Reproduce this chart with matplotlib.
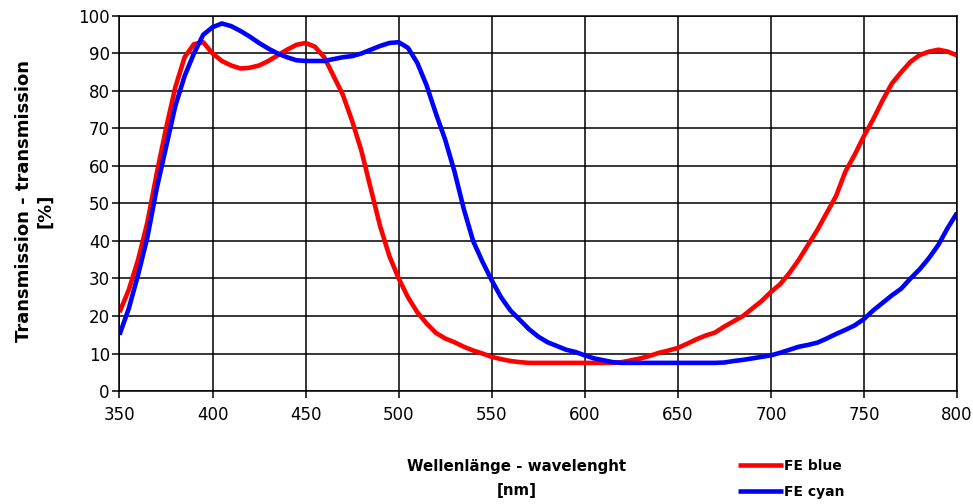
import matplotlib
matplotlib.use('Agg')
import matplotlib.pyplot as plt

# wavelength grid [nm]
wl = [350, 355, 360, 365, 370, 375, 380, 385, 390, 395,
      400, 405, 410, 415, 420, 425, 430, 435, 440, 445,
      450, 455, 460, 465, 470, 475, 480, 485, 490, 495,
      500, 505, 510, 515, 520, 525, 530, 535, 540, 545,
      550, 555, 560, 565, 570, 575, 580, 585, 590, 595,
      600, 605, 610, 615, 620, 625, 630, 635, 640, 645,
      650, 655, 660, 665, 670, 675, 680, 685, 690, 695,
      700, 705, 710, 715, 720, 725, 730, 735, 740, 745,
      750, 755, 760, 765, 770, 775, 780, 785, 790, 795, 800]

fe_blue = [21, 27, 35, 45, 58, 70, 81, 89, 92.5, 93,
           90, 88, 86.8, 86, 86.2, 86.8, 88, 89.5, 91, 92.3,
           92.8, 91.8, 89, 84, 79, 72, 64, 54, 44, 36,
           30, 25, 21, 18, 15.5, 14, 13, 11.8, 10.8, 10,
           9.1, 8.5, 8, 7.7, 7.5, 7.5, 7.5, 7.5, 7.5, 7.5,
           7.5, 7.5, 7.5, 7.5, 7.7, 8.2, 8.7, 9.4, 10.2, 10.8,
           11.5, 12.6, 13.8, 14.8, 15.6, 17.2, 18.6, 20, 22, 24,
           26.4, 28.5, 31.5, 35, 39, 43, 47.5, 52, 58.5, 63,
           68, 72.5, 77.5, 82, 85, 87.8, 89.6, 90.5, 91, 90.5, 89.5]

fe_cyan = [15, 22, 31, 41, 54, 65, 76, 84, 90, 95,
           97, 98, 97.3, 96, 94.5, 92.8, 91.3, 90, 89, 88.2,
           88, 88, 88, 88.5, 89, 89.3, 90, 91, 92, 92.8,
           93, 91.5, 87.5, 81.5, 74, 67, 58.5, 48.5, 40, 34.5,
           29.5, 25, 21.5, 19, 16.5, 14.5, 13, 12, 11, 10.4,
           9.5, 8.7, 8.2, 7.7, 7.5, 7.5, 7.5, 7.5, 7.5, 7.5,
           7.5, 7.5, 7.5, 7.5, 7.5, 7.6, 8, 8.3, 8.7, 9.1,
           9.5, 10.2, 11, 11.8, 12.3, 12.9, 14, 15.2, 16.3, 17.5,
           19.2, 21.5, 23.5, 25.5, 27.3, 30, 32.5, 35.5, 39, 43.5, 47.5]

x_ticks = [350, 400, 450, 500, 550, 600, 650, 700, 750, 800]
y_ticks = [0, 10, 20, 30, 40, 50, 60, 70, 80, 90, 100]

fig = plt.figure(figsize=(9.73, 5.04), dpi=100)
ax = fig.add_axes([0.1228, 0.2242, 0.8608, 0.7441])

ax.plot(wl, fe_blue, color='#ff0000', lw=3.3, label='FE blue', solid_capstyle='butt')
ax.plot(wl, fe_cyan, color='#0000ff', lw=3.3, label='FE cyan', solid_capstyle='butt')

ax.set_xlim(350, 800)
ax.set_ylim(0, 100)
ax.set_xticks(x_ticks)
ax.set_yticks(y_ticks)
ax.grid(True, color='black', lw=1.1)
ax.set_axisbelow(True)
for s in ax.spines.values():
    s.set_color('black')
    s.set_linewidth(1.1)
ax.tick_params(direction='out', length=5, width=1.1, labelsize=12)
ax.tick_params(axis='x', pad=6)
ax.tick_params(axis='y', pad=2)

fig.text(24 / 973, 1 - 201 / 504, 'Transmission - transmission', rotation=90,
         ha='center', va='center', fontsize=13, fontweight='bold')
fig.text(45 / 973, 1 - 211 / 504, '[%]', rotation=90,
         ha='center', va='center', fontsize=13, fontweight='bold')
fig.text(517 / 973, 1 - 467 / 504, 'Wellenlänge - wavelenght',
         ha='center', va='center', fontsize=10.8, fontweight='bold')
fig.text(517 / 973, 1 - 491 / 504, '[nm]',
         ha='center', va='center', fontsize=10.8, fontweight='bold')

ax.legend(loc='center left', bbox_to_anchor=(725 / 973, 1 - 479 / 504),
          bbox_transform=fig.transFigure, frameon=False,
          handlelength=3.3, handletextpad=0.05, labelspacing=0.85,
          prop={'weight': 'bold', 'size': 10})

fig.savefig('out.png', dpi=100)
